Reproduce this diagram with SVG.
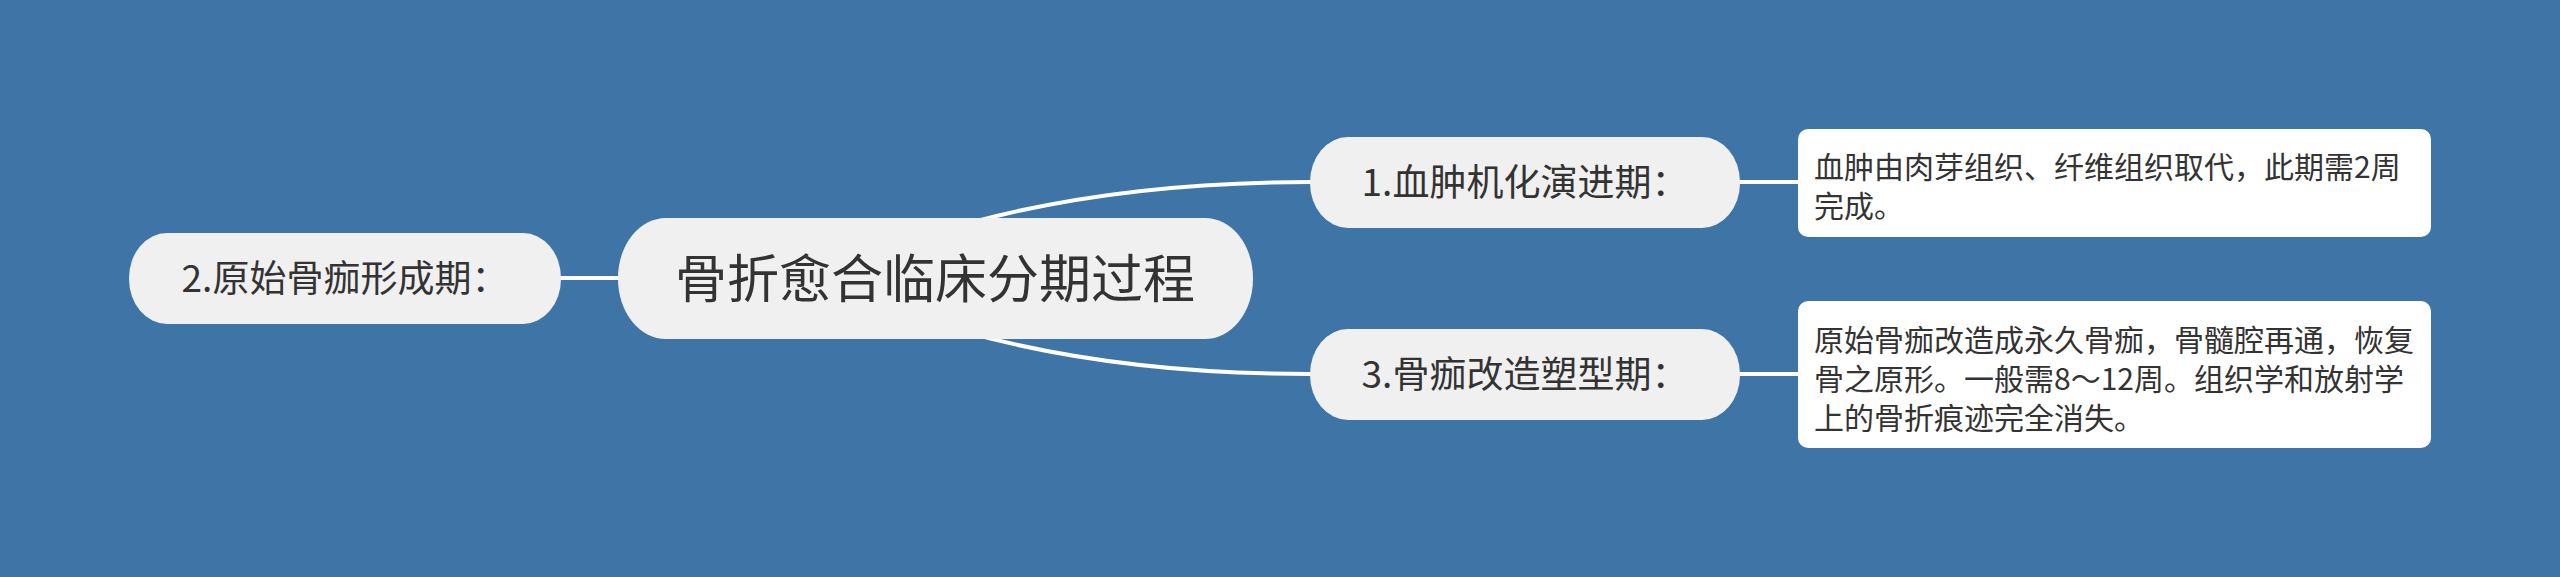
<svg xmlns="http://www.w3.org/2000/svg" width="2560" height="577" viewBox="0 0 2560 577">
<style>
.bg{fill:#3e74a6}
.node{fill:#f0f0f0}
.box{fill:#ffffff}
.link{fill:none;stroke:#ffffff;stroke-width:4;stroke-linecap:round}
text{font-family:"Noto Sans CJK SC","Noto Sans",sans-serif;fill:#333333}
.c{font-size:52px;text-anchor:middle}
.n{font-size:37px;text-anchor:middle}
.t{font-size:30px}
</style>
<rect class="bg" x="0" y="0" width="2560" height="577"/>
<g id="connectors">
<path class="link" d="M 820 278 Q 1019 182 1310 182"/>
<path class="link" d="M 820 278 Q 1019 374 1310 374"/>
<path class="link" d="M 561 278 L 620 278"/>
<path class="link" d="M 1738 182 L 1800 182"/>
<path class="link" d="M 1738 374 L 1800 374"/>
</g>
<g id="center">
<rect class="node" x="618" y="218" width="635" height="121" rx="48" ry="60"/>
<text class="c" x="935" y="298">骨折愈合临床分期过程</text>
</g>
<g id="node2">
<rect class="node" x="129" y="233" width="432" height="91" rx="38" ry="45"/>
<text class="n" x="345" y="292">2.原始骨痂形成期：</text>
</g>
<g id="node1">
<rect class="node" x="1310" y="137" width="430" height="91" rx="38" ry="45"/>
<text class="n" x="1525" y="196">1.血肿机化演进期：</text>
</g>
<g id="node3">
<rect class="node" x="1310" y="329" width="430" height="91" rx="38" ry="45"/>
<text class="n" x="1525" y="388">3.骨痂改造塑型期：</text>
</g>
<g id="note1">
<rect class="box" x="1798" y="129" width="633" height="108" rx="10"/>
<text class="t" x="1814" y="178">血肿由肉芽组织、纤维组织取代，此期需2周</text>
<text class="t" x="1814" y="217">完成。</text>
</g>
<g id="note3">
<rect class="box" x="1798" y="301" width="633" height="147" rx="10"/>
<text class="t" x="1814" y="351">原始骨痂改造成永久骨痂，骨髓腔再通，恢复</text>
<text class="t" x="1814" y="390">骨之原形。一般需8～12周。组织学和放射学</text>
<text class="t" x="1814" y="429">上的骨折痕迹完全消失。</text>
</g>
</svg>
